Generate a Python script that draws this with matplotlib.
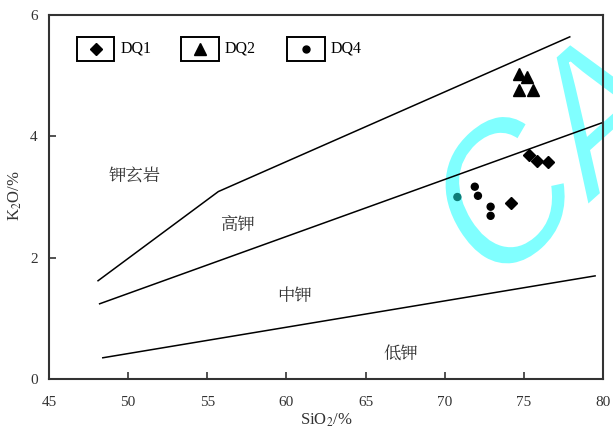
import matplotlib
matplotlib.use("Agg")
import matplotlib.pyplot as plt
from matplotlib.patches import Rectangle, PathPatch
from matplotlib.textpath import TextPath
from matplotlib.font_manager import FontProperties
from matplotlib.transforms import Affine2D

plt.rcParams['font.family'] = ['Liberation Serif', 'Noto Sans CJK SC', 'DejaVu Sans']
plt.rcParams['mathtext.fontset'] = 'stix'

# sample data: SiO2 (%) and K2O (%)
sio2_dq1 = [75.3, 75.8, 76.5, 74.2]
k2o_dq1 = [3.70, 3.60, 3.58, 2.90]
sio2_dq2 = [74.7, 75.2, 74.7, 75.6]
k2o_dq2 = [5.03, 4.98, 4.77, 4.77]
sio2_dq4 = [71.9, 72.1, 72.9, 72.9, 70.8]
k2o_dq4 = [3.17, 3.02, 2.84, 2.69, 3.00]
dq4_colors = ['black', 'black', 'black', 'black', '#0c7d78']

# field boundaries
shosh_x = [48.1, 55.7, 77.9]
shosh_y = [1.62, 3.09, 5.64]
highk_x = [48.2, 79.9]
highk_y = [1.24, 4.22]
lowk_x = [48.4, 79.5]
lowk_y = [0.35, 1.70]

field_names = ['钾玄岩', '高钾', '中钾', '低钾']
field_x = [50.4, 56.9, 60.5, 67.2]
field_y = [3.34, 2.53, 1.36, 0.40]

fig = plt.figure(figsize=(6.13, 4.34), dpi=100)
ax = fig.add_axes([0.0799, 0.1267, 0.9038, 0.8387])
ax.patch.set_alpha(0)

# "CA" stamp behind the plot, pixel coordinates
tp = TextPath((0, 0), 'CA', size=172, prop=FontProperties(family='Liberation Sans'))
stamp_tr = Affine2D().rotate_deg(36.8).scale(1.0, 1.2).translate(488, 139)
fig.patches.append(PathPatch(tp, transform=stamp_tr, facecolor='#80ffff',
                             edgecolor='white', lw=1.5, zorder=-1))

for xs, ys in [(shosh_x, shosh_y), (highk_x, highk_y), (lowk_x, lowk_y)]:
    ax.plot(xs, ys, color='black', lw=1.1)

ax.plot(sio2_dq1, k2o_dq1, 'D', color='black', ms=6, ls='none')
ax.plot(sio2_dq2, k2o_dq2, '^', color='black', ms=8, ls='none')
ax.scatter(sio2_dq4, k2o_dq4, s=25, c=dq4_colors, zorder=3)

for name, x, y in zip(field_names, field_x, field_y):
    ax.text(x, y, name, fontsize=12.5, color='#333333', ha='center', va='center',
            family=['Noto Serif CJK SC', 'Noto Sans CJK SC'])

# boxed legend
leg_labels = ['DQ1', 'DQ2', 'DQ4']
leg_markers = [('D', 6), ('^', 8), ('o', 5)]
leg_left = [0.05, 0.238, 0.43]
for lab, (mk, ms), x0 in zip(leg_labels, leg_markers, leg_left):
    ax.add_patch(Rectangle((x0, 0.875), 0.068, 0.065, transform=ax.transAxes,
                           fill=False, lw=1.4, edgecolor='black'))
    ax.plot(x0 + 0.034, 0.9075, mk, color='black', ms=ms, transform=ax.transAxes)
    ax.text(x0 + 0.079, 0.9075, lab, transform=ax.transAxes, fontsize=11.5, va='center')

ax.set_xlim(45, 80)
ax.set_ylim(0, 6)
ax.set_xticks(range(45, 81, 5))
ax.set_yticks([0, 2, 4, 6])
ax.tick_params(direction='in', length=5, width=1.2, labelsize=11, pad=12, colors='#333333')
ax.tick_params(axis='y', pad=8)
for s in ax.spines.values():
    s.set_linewidth(1.5)
    s.set_color('#333333')

ax.set_xlabel('SiO$_2$/%', fontsize=12, labelpad=2, color='#333333')
ax.set_ylabel('K$_2$O/%', fontsize=12, color='#333333')
ax.yaxis.set_label_coords(-0.045, 0.505)

fig.savefig('out.png', dpi=100)
